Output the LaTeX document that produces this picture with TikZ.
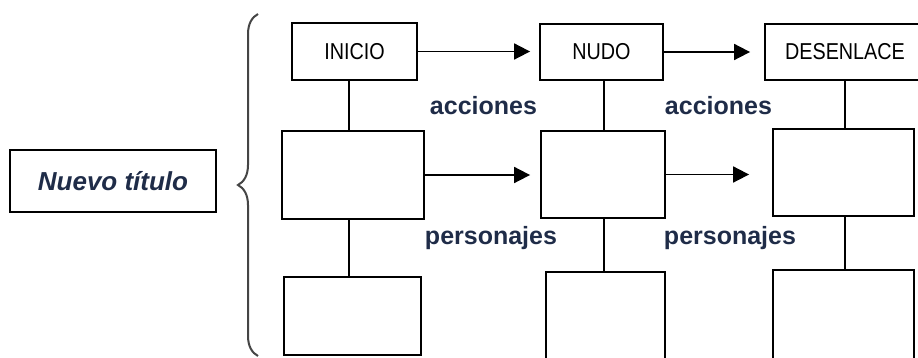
\documentclass[tikz,border=0pt]{standalone}
\usepackage{fontspec}
\setmainfont{Liberation Sans}
\newfontfamily\narrowfont[FakeStretch=0.86]{Liberation Sans}
\usetikzlibrary{arrows.meta,decorations.pathreplacing}
\definecolor{textblue}{HTML}{1F2C48}
\definecolor{bracegray}{HTML}{454545}

\begin{document}
\begin{tikzpicture}[x=0.5pt,y=-0.5pt,
    caja/.style={draw, line width=0.9pt, inner sep=0pt},
    fase/.style={caja, font=\narrowfont\fontsize{11.5}{12}\selectfont},
    etiqueta/.style={text=textblue, font=\bfseries\fontsize{12.5}{14}\selectfont},
    linea/.style={line width=0.9pt},
    flecha/.style={line width=0.9pt, -{Triangle[length=8pt,width=8pt]}}]
  \clip (0,0) rectangle (918,358);
  % title and brace
  \node[caja, text=textblue, font=\bfseries\itshape\fontsize{13}{15}\selectfont,
        minimum width=103pt, minimum height=31pt] (titulo) at (113,181) {Nuevo título};
  \draw[bracegray, line width=1pt, decorate, decoration={brace, amplitude=10pt}]
    (258,356) -- (258,14);
  %top row
  \node[fase, minimum width=62.5pt, minimum height=28.5pt] (inicio) at (354.5,51.5) {INICIO};
  \node[fase, minimum width=61.5pt, minimum height=28pt] (nudo) at (601.5,52) {NUDO};
  \node[fase, minimum width=80pt, minimum height=28pt] (desenlace) at (845,52) {DESENLACE};
  %middle row
  \node[caja, minimum width=71pt, minimum height=44pt] (inicio2) at (353,175) {};
  \node[caja, minimum width=62pt, minimum height=43.5pt] (nudo2) at (603,174.5) {};
  \node[caja, minimum width=70.5pt, minimum height=43.5pt] (desenlace2) at (843.5,172.5) {};
  %bottom row
  \node[caja, minimum width=68.5pt, minimum height=39pt] (inicio3) at (352.5,316) {};
  \node[caja, minimum width=59.5pt, minimum height=44pt] (nudo3) at (605.5,316) {};
  \node[caja, minimum width=70.5pt, minimum height=45pt] (desenlace3) at (843.5,315) {};
  % labels
  \node[etiqueta] (acciones1) at (483.5,106) {acciones};
  \node[etiqueta] (acciones2) at (718.5,106) {acciones};
  \node[etiqueta] (personajes1) at (491,238) {personajes};
  \node[etiqueta] (personajes2) at (730,238) {personajes};
  % columns
  \coordinate (col1) at (349,0);
  \coordinate (col2) at (604,0);
  \coordinate (col3) at (845,0);
  \draw[linea] (inicio.south -| col1) -- (inicio2.north -| col1);
  \draw[linea] (inicio2.south -| col1) -- (inicio3.north -| col1);
  \draw[linea] (nudo.south -| col2) -- (nudo2.north -| col2);
  \draw[linea] (nudo2.south -| col2) -- (nudo3.north -| col2);
  \draw[linea] (desenlace.south -| col3) -- (desenlace2.north -| col3);
  \draw[linea] (desenlace2.south -| col3) -- (desenlace3.north -| col3);
  % arrows
  \draw[flecha, shorten >=4.5pt] (inicio.east) -- (inicio.east -| nudo.west);
  \draw[flecha, shorten >=7pt] (nudo.east) -- (nudo.east -| desenlace.west);
  \draw[flecha, shorten >=5pt] (inicio2.east) -- (inicio2.east -| nudo2.west);
  \draw[flecha, shorten >=11.5pt] (nudo2.east) -- (nudo2.east -| desenlace2.west);
\end{tikzpicture}
\end{document}
